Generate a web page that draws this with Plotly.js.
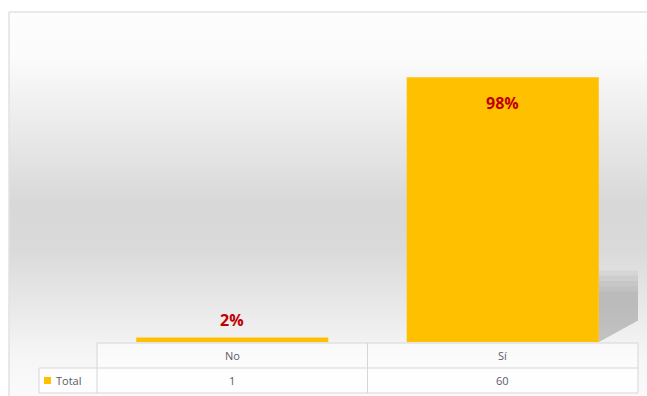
<!DOCTYPE html>
<html>
<head>
<meta charset="utf-8">
<script src="https://cdn.plot.ly/plotly-3.0.1.min.js"></script>
<style>
html,body{margin:0;padding:0;background:#fff;}
#chart{width:647px;height:396px;}
</style>
</head>
<body>
<div id="chart"></div>
<script>
// ---- data ----
const categories = ["No", "Sí"];
const totals = [1, 60];
const seriesName = "Total";

// ---- derived ----
const sum = totals.reduce((a, b) => a + b, 0);
const pctLabels = totals.map(v => Math.round(v / sum * 100) + "%");

// layout geometry (pixels)
const W = 647, H = 396;
const mL = 97, mR = 9, mT = 33, mB = 54;
const plotW = W - mL - mR, plotH = H - mT - mB;
const px2x = px => (px - mL) / plotW;          // paper x
const px2y = py => (H - mB - py) / plotH;      // paper y

const barColor = "#FFC000";
const lineCol = "#d6d6d6";
const textCol = "#5b5b66";
const barWidth = 0.71;

const trace = {
  type: "bar",
  x: categories,
  y: totals,
  name: seriesName,
  width: barWidth,
  marker: {color: barColor},
  hoverinfo: "skip",
  showlegend: false
};

// background gradient as inline SVG image
const svg = `<svg xmlns='http://www.w3.org/2000/svg' width='100' height='100' preserveAspectRatio='none' viewBox='0 0 100 100'>
<defs><linearGradient id='g' x1='0' y1='0' x2='0' y2='1'>
<stop offset='0' stop-color='#fdfdfd'/>
<stop offset='0.12' stop-color='#fbfbfb'/>
<stop offset='0.5' stop-color='#d8d8d8'/>
<stop offset='0.62' stop-color='#dadada'/>
<stop offset='0.9' stop-color='#f6f6f6'/>
<stop offset='1' stop-color='#fafafa'/>
</linearGradient></defs>
<rect x='0' y='0' width='100' height='100' fill='url(#g)'/>
</svg>`;
const svgURI = "data:image/svg+xml;charset=utf-8," + encodeURIComponent(svg);

const shapes = [];
// outer frame (left & top edges)
shapes.push({type:"line", xref:"paper", yref:"paper", x0:px2x(9), x1:px2x(9), y0:px2y(12), y1:px2y(396), line:{color:"#e2e2e2", width:1.5}, layer:"below"});
shapes.push({type:"line", xref:"paper", yref:"paper", x0:px2x(9), x1:px2x(647), y0:px2y(12), y1:px2y(12), line:{color:"#e2e2e2", width:1.5}, layer:"below"});

// soft shadow behind last bar (decorative, relative to bar)
const lastIdx = categories.length - 1;
const bx = lastIdx + barWidth / 2;
const sx = 0.152;
const vTop = totals[lastIdx];
const shadowTops = [0.27, 0.25, 0.23, 0.21, 0.19];
shadowTops.forEach(f => {
  shapes.push({type:"path", xref:"x", yref:"y",
    path:`M ${bx},0 L ${bx},${vTop*f} L ${bx+sx},${vTop*f} L ${bx+sx},${vTop*0.085} Z`,
    fillcolor:"rgba(150,150,150,0.13)", line:{width:0}, layer:"below"});
});

// data table grid
const yTop = px2y(343), yMid = px2y(368), yBot = px2y(393);
const xLeg = px2x(39), xFirst = px2x(97), xLast = px2x(638);
const hl = (x0, x1, y) => shapes.push({type:"line", xref:"paper", yref:"paper", x0, x1, y0:y, y1:y, line:{color:lineCol, width:1}});
const vl = (x, y0, y1) => shapes.push({type:"line", xref:"paper", yref:"paper", x0:x, x1:x, y0, y1, line:{color:lineCol, width:1}});
shapes.push({type:"rect", xref:"paper", yref:"paper", x0:xFirst, x1:xLast, y0:yMid, y1:yTop, fillcolor:"rgba(255,255,255,0.5)", line:{width:0}});
shapes.push({type:"rect", xref:"paper", yref:"paper", x0:xLeg, x1:xLast, y0:yBot, y1:yMid, fillcolor:"rgba(255,255,255,0.85)", line:{width:0}});
hl(xFirst, xLast, yTop);
hl(xLeg, xLast, yMid);
hl(xLeg, xLast, yBot);
vl(xLeg, yBot, yMid);
vl(xFirst, yBot, yTop);
for (let i = 1; i < categories.length; i++) {
  shapes.push({type:"line", xref:"x", yref:"paper", x0:i-0.5, x1:i-0.5, y0:yBot, y1:yTop, line:{color:lineCol, width:1}});
}
vl(xLast, yBot, yTop);
// legend key
shapes.push({type:"rect", xref:"paper", yref:"paper", x0:px2x(44), x1:px2x(51), y0:px2y(384), y1:px2y(377), fillcolor:barColor, line:{width:0}});

const annotations = [];
const tfont = {family:"Open Sans, Liberation Sans, sans-serif", size:11, color:textCol};
categories.forEach((c, i) => {
  annotations.push({xref:"x", yref:"paper", x:c, y:(yTop+yMid)/2, text:c, showarrow:false, font:tfont, xanchor:"center", yanchor:"middle"});
  annotations.push({xref:"x", yref:"paper", x:c, y:(yMid+yBot)/2, text:String(totals[i]), showarrow:false, font:tfont, xanchor:"center", yanchor:"middle"});
  const big = totals[i] / sum > 0.5;
  annotations.push({xref:"x", yref:"y", x:c, y:totals[i], text:"<b>"+pctLabels[i]+"</b>", showarrow:false,
    font:{family:"Open Sans, Liberation Sans, sans-serif", size:16, color:"#C00000"},
    xanchor:"center", yanchor: big ? "top" : "bottom", yshift: big ? -13 : 5});
});
annotations.push({xref:"paper", yref:"paper", x:px2x(54), y:(yMid+yBot)/2, text:seriesName, showarrow:false, font:tfont, xanchor:"left", yanchor:"middle"});

const layout = {
  width: W, height: H,
  margin: {l:mL, r:mR, t:mT, b:mB, pad:0},
  paper_bgcolor: "#ffffff",
  plot_bgcolor: "rgba(0,0,0,0)",
  showlegend: false,
  xaxis: {type:"category", range:[-0.5, categories.length - 0.5], showticklabels:false, showgrid:false, zeroline:false, showline:false, ticks:"", fixedrange:true},
  yaxis: {range:[0, 70], showticklabels:false, showgrid:false, zeroline:false, showline:false, ticks:"", fixedrange:true},
  images: [{source: svgURI, xref:"paper", yref:"paper", x:px2x(9), y:px2y(12), sizex:px2x(647)-px2x(9), sizey:px2y(12)-px2y(396), sizing:"stretch", xanchor:"left", yanchor:"top", layer:"below"}],
  shapes: shapes,
  annotations: annotations
};

Plotly.newPlot("chart", [trace], layout, {displayModeBar:false, staticPlot:true});
</script>
</body>
</html>
